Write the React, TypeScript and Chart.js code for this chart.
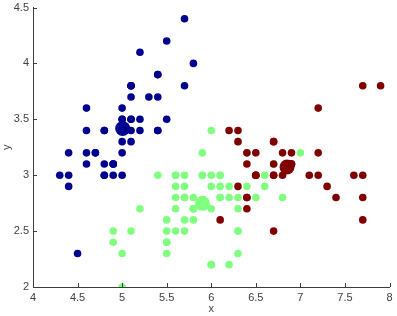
import React, { useEffect, useRef } from "react";
import { Chart, registerables } from "chart.js";

Chart.register(...registerables);

const xTicks = [4, 4.5, 5, 5.5, 6, 6.5, 7, 7.5, 8];
const yTicks = [2, 2.5, 3, 3.5, 4, 4.5];
const xTitle = "x";
const yTitle = "y";

// cluster 1 (dark blue)
const blueX = [5.1, 4.9, 4.7, 4.6, 5.0, 5.4, 4.6, 5.0, 4.4, 4.9, 5.4, 4.8, 4.8, 4.3, 5.8, 5.7, 5.4, 5.1, 5.7, 5.1, 5.4, 5.1, 4.6, 5.1, 4.8, 5.0, 5.0, 5.2, 5.2, 4.7, 4.8, 5.4, 5.2, 5.5, 4.9, 5.0, 5.5, 4.9, 4.4, 5.1, 5.0, 4.5, 4.4, 5.0, 5.1, 4.8, 5.1, 4.6, 5.3, 5.0];
const blueY = [3.5, 3.0, 3.2, 3.1, 3.6, 3.9, 3.4, 3.4, 2.9, 3.1, 3.7, 3.4, 3.0, 3.0, 4.0, 4.4, 3.9, 3.5, 3.8, 3.8, 3.4, 3.7, 3.6, 3.3, 3.4, 3.0, 3.4, 3.5, 3.4, 3.2, 3.1, 3.4, 4.1, 4.2, 3.1, 3.2, 3.5, 3.1, 3.0, 3.4, 3.5, 2.3, 3.2, 3.5, 3.8, 3.0, 3.8, 3.2, 3.7, 3.3];

// cluster 2 (light green)
const greenX = [7.0, 6.4, 5.5, 6.5, 5.7, 6.3, 4.9, 6.6, 5.2, 5.0, 5.9, 6.0, 6.1, 5.6, 6.7, 5.6, 5.8, 6.2, 5.6, 5.9, 6.1, 6.3, 6.1, 6.4, 6.6, 6.8, 6.0, 5.7, 5.5, 5.5, 5.8, 6.0, 5.4, 6.0, 6.7, 6.3, 5.6, 5.5, 5.5, 6.1, 5.8, 5.0, 5.6, 5.7, 5.7, 6.2, 5.1, 5.7, 5.8, 4.9, 5.7, 5.8, 6.0, 5.6, 6.3, 6.2, 6.1, 6.3, 6.0, 5.8, 6.3, 5.9];
const greenY = [3.2, 3.2, 2.3, 2.8, 2.8, 3.3, 2.4, 2.9, 2.7, 2.0, 3.0, 2.2, 2.9, 2.9, 3.1, 3.0, 2.7, 2.2, 2.5, 3.2, 2.8, 2.5, 2.8, 2.9, 3.0, 2.8, 2.9, 2.6, 2.4, 2.4, 2.7, 2.7, 3.0, 3.4, 3.1, 2.3, 3.0, 2.5, 2.6, 3.0, 2.6, 2.3, 2.7, 3.0, 2.9, 2.9, 2.5, 2.8, 2.7, 2.5, 2.5, 2.8, 2.2, 2.8, 2.7, 2.8, 3.0, 2.8, 3.0, 2.7, 2.5, 3.0];

// cluster 3 (dark red)
const redX = [6.9, 6.7, 6.3, 7.1, 6.3, 6.5, 7.6, 7.3, 6.7, 7.2, 6.5, 6.4, 6.8, 6.4, 6.5, 7.7, 7.7, 6.9, 7.7, 6.7, 7.2, 6.4, 7.2, 7.4, 7.9, 6.4, 6.1, 7.7, 6.3, 6.4, 6.9, 6.7, 6.9, 6.8, 6.7, 6.7, 6.5, 6.2];
const redY = [3.1, 3.0, 3.3, 3.0, 2.9, 3.0, 3.0, 2.9, 2.5, 3.6, 3.2, 2.7, 3.0, 3.2, 3.0, 3.8, 2.6, 3.2, 2.8, 3.3, 3.2, 2.8, 3.0, 2.8, 3.8, 2.8, 2.6, 3.0, 3.4, 3.1, 3.1, 3.1, 3.1, 3.2, 3.3, 3.0, 3.0, 3.4];

// cluster centres
const centerX = [5.006, 5.9016, 6.85];
const centerY = [3.418, 2.7484, 3.0737];

const BLUE = "#00008f";
const GREEN = "#80ff80";
const RED = "#800000";
const AXIS = "#3c3c3c";
const TEXT = "#404040";

const toPoints = (xs: number[], ys: number[]) => xs.map((x, i) => ({ x, y: ys[i] }));

const inwardTicks = {
  id: "inwardTicks",
  afterDraw(chart: any) {
    const { ctx, chartArea, scales } = chart;
    ctx.save();
    ctx.strokeStyle = AXIS;
    ctx.lineWidth = 1;
    ctx.beginPath();
    xTicks.forEach((v) => {
      const px = Math.round(scales.x.getPixelForValue(v)) + 0.5;
      ctx.moveTo(px, chartArea.bottom);
      ctx.lineTo(px, chartArea.bottom - 4);
    });
    yTicks.forEach((v) => {
      const py = Math.round(scales.y.getPixelForValue(v)) + 0.5;
      ctx.moveTo(chartArea.left, py);
      ctx.lineTo(chartArea.left + 4, py);
    });
    ctx.stroke();
    ctx.restore();
  },
};

export default function App() {
  const ref = useRef<HTMLCanvasElement>(null);
  useEffect(() => {
    if (!ref.current) return;
    const font = { family: "'Liberation Sans', Arial, sans-serif", size: 11 };
    const chart = new Chart(ref.current, {
      type: "scatter",
      data: {
        datasets: [
          { data: toPoints(blueX, blueY), backgroundColor: BLUE, borderColor: BLUE, pointRadius: 3.8, borderWidth: 0, order: 3 },
          { data: toPoints(greenX, greenY), backgroundColor: GREEN, borderColor: GREEN, pointRadius: 3.8, borderWidth: 0, order: 2 },
          { data: toPoints(redX, redY), backgroundColor: RED, borderColor: RED, pointRadius: 3.8, borderWidth: 0, order: 1 },
          {
            data: toPoints(centerX, centerY),
            backgroundColor: [BLUE, GREEN, RED],
            borderColor: [BLUE, GREEN, RED],
            pointRadius: 7.5,
            borderWidth: 0,
            order: 0,
          },
        ],
      },
      options: {
        responsive: false,
        animation: false,
        layout: { padding: { top: 6, right: 7, left: 0, bottom: 0 } },
        plugins: { legend: { display: false }, tooltip: { enabled: false } },
        scales: {
          x: {
            type: "linear",
            min: 4,
            max: 8,
            grid: { display: false, drawTicks: false },
            border: { display: true, color: AXIS, width: 1 },
            afterBuildTicks: (s: any) => {
              s.ticks = xTicks.map((v) => ({ value: v }));
            },
            afterFit: (s: any) => {
              s.height = 29;
            },
            ticks: { color: TEXT, font, padding: 4, maxRotation: 0, autoSkip: false, callback: (v: any) => String(v) },
            title: { display: true, text: xTitle, color: TEXT, font, padding: { top: 0, bottom: 0 } },
          },
          y: {
            type: "linear",
            min: 2,
            max: 4.5,
            grid: { display: false, drawTicks: false },
            border: { display: true, color: AXIS, width: 1 },
            afterBuildTicks: (s: any) => {
              s.ticks = yTicks.map((v) => ({ value: v }));
            },
            afterFit: (s: any) => {
              s.width = 33;
              s.paddingTop = 0;
              s.paddingBottom = 0;
            },
            ticks: { color: TEXT, font, padding: 4, autoSkip: false, callback: (v: any) => String(v) },
            title: { display: true, text: yTitle, color: TEXT, font, padding: { top: 0, bottom: 0 } },
          },
        },
      },
      plugins: [inwardTicks],
    });
    return () => chart.destroy();
  }, []);
  return (
    <div style={{ position: "fixed", left: 0, top: 0, width: 397, height: 316, background: "#fff" }}>
      <canvas ref={ref} width={397} height={316} />
    </div>
  );
}
